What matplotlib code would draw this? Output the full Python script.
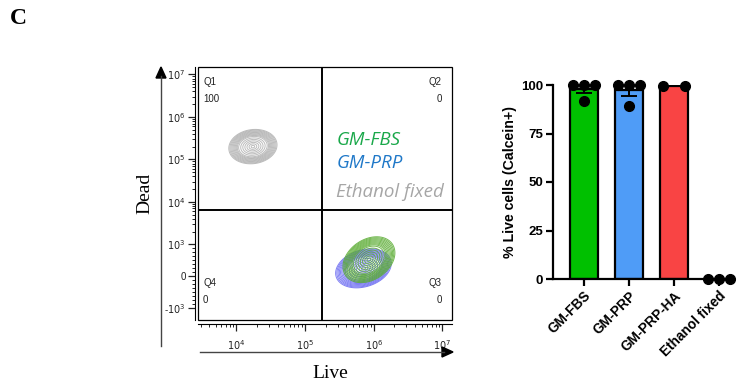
import numpy as np
import matplotlib
matplotlib.use("Agg")
import matplotlib.pyplot as plt
from matplotlib.scale import SymmetricalLogScale
from matplotlib.ticker import FixedLocator, NullFormatter
from matplotlib.patches import Rectangle

# ---- bar chart data ----
groups = ["GM-FBS", "GM-PRP", "GM-PRP-HA", "Ethanol fixed"]
fbs = [100, 100, 100, 92]
prp = [100, 100, 100, 89]
prp_ha = [99.6, 99.4]
ethanol = [0, 0, 0]
bar_colors = ["#00c000", "#4f9cf7", "#f94444", "#ffffff"]

# ---- flow populations (log10 Live center, Dead center, sd x/y in decades, corr) ----
pop_names = ["Ethanol fixed", "GM-PRP", "GM-FBS"]
pop_x = [4.24, 5.85, 5.93]
pop_y = [2.0e5, 250, 520]
pop_sx = [0.13, 0.15, 0.14]
pop_sy = [0.15, 0.17, 0.2]
pop_r = [0.1, 0.25, 0.3]
pop_colors = ["#b0b0b0", "#6a6af2", "#5aac32"]
legend_colors = ["#a6a6a6", "#1f78c8", "#1aa84a"]

quad_labels = [("Q1", "100"), ("Q2", "0"), ("Q4", "0"), ("Q3", "0")]
x_gate = 10 ** 5.24
y_gate = 6500

plt.rcParams["font.family"] = ["Liberation Sans", "DejaVu Sans"]
fig = plt.figure(figsize=(7.41, 3.86), dpi=100)
W, H = 741, 386

def px(x0, y0, x1, y1):
    return [x0 / W, 1 - y1 / H, (x1 - x0) / W, (y1 - y0) / H]

# ================= flow plot =================
ax = fig.add_axes(px(198, 67, 452, 320))
ax.set_xscale("log")
ax.set_yscale("symlog", linthresh=1e3, linscale=0.68)
ax.set_xlim(10 ** 3.44, 10 ** 7.14)
ax.set_ylim(-1870, 1.5e7)

tr = SymmetricalLogScale(None, base=10, linthresh=1e3, linscale=0.68).get_transform()
gx = np.linspace(3.44, 7.14, 500)
gt = np.linspace(tr.transform([-1870])[0], tr.transform([1.5e7])[0], 500) / 1000.0
GX, GT = np.meshgrid(gx, gt)
Xd = 10 ** GX
Yd = tr.inverted().transform((GT * 1000).ravel()).reshape(GT.shape)
r_levels = np.concatenate([np.linspace(0.2, 1.6, 7), np.linspace(1.75, 2.7, 9)])
levels = np.sort(np.exp(-r_levels ** 2 / 2))
for cx, cy, sx, sy, rho, col in zip(pop_x, pop_y, pop_sx, pop_sy, pop_r, pop_colors):
    ct = tr.transform([cy])[0] / 1000.0
    u = (GX - cx) / sx
    v = (GT - ct) / sy
    q = (u ** 2 - 2 * rho * u * v + v ** 2) / (1 - rho ** 2)
    dens = np.exp(-q / 2)
    ax.contour(Xd, Yd, dens, levels=levels, colors=col, linewidths=0.7, alpha=0.85)

ax.axvline(x_gate, color="black", lw=1.4)
ax.axhline(y_gate, color="black", lw=1.4)

for s in ax.spines.values():
    s.set_visible(False)
ax.spines["left"].set_visible(True)
ax.spines["bottom"].set_visible(True)
ax.spines["left"].set_position(("outward", 2))
ax.spines["bottom"].set_position(("outward", 3))
ax.spines["left"].set_linewidth(0.8)
ax.spines["bottom"].set_linewidth(0.8)
ax.add_patch(Rectangle((0, 0), 1, 1, transform=ax.transAxes, fill=False,
                       ec="black", lw=0.9, clip_on=False))

ax.xaxis.set_major_locator(FixedLocator([1e4, 1e5, 1e6, 1e7]))
ax.set_xticklabels([r"$10^{4}$", r"$10^{5}$", r"$10^{6}$", r"$10^{7}$"])
xminor = [m * 10 ** d for d in range(3, 7) for m in range(2, 10)]
ax.xaxis.set_minor_locator(FixedLocator([v for v in xminor if v > 10 ** 3.44]))
ax.xaxis.set_minor_formatter(NullFormatter())

ax.yaxis.set_major_locator(FixedLocator([-1e3, 0, 1e3, 1e4, 1e5, 1e6, 1e7]))
ax.set_yticklabels([r"-$10^{3}$", "0", r"$10^{3}$", r"$10^{4}$", r"$10^{5}$",
                    r"$10^{6}$", r"$10^{7}$"])
yminor = [m * 10 ** d for d in range(3, 7) for m in range(2, 10)]
yminor += list(np.arange(-1000, 1001, 125))
ax.yaxis.set_minor_locator(FixedLocator(yminor))
ax.yaxis.set_minor_formatter(NullFormatter())
ax.tick_params(which="major", length=5, width=0.9, labelsize=7, pad=2, colors="#222222")
ax.tick_params(which="minor", length=2.5, width=0.6)
ax.tick_params(axis="x", pad=5)

qpos = [(0.02, 0.96, "left"), (0.96, 0.96, "right"), (0.02, 0.165, "left"), (0.96, 0.165, "right")]
for (q, val), (qx, qy, ha) in zip(quad_labels, qpos):
    ax.text(qx, qy, q, transform=ax.transAxes, ha=ha, va="top", fontsize=7, color="#222222")
    ax.text(qx, qy - 0.065, val, transform=ax.transAxes, ha=ha, va="top", fontsize=7, color="#222222")

legend_y = [0.71, 0.62, 0.505]
for name, col, ly in zip(pop_names[::-1], legend_colors[::-1], legend_y):
    ax.text(0.545, ly, name, transform=ax.transAxes, ha="left", va="center",
            fontsize=13.5, style="italic", color=col, family=["Open Sans", "DejaVu Sans"])

# axis arrows
fig.add_artist(plt.Line2D([161 / W, 161 / W], [1 - 346 / H, 1 - 76 / H], color="#444444", lw=1.0))
fig.add_artist(plt.Polygon([[156 / W, 1 - 78 / H], [166 / W, 1 - 78 / H], [161 / W, 1 - 67 / H]],
                           closed=True, color="black"))
fig.add_artist(plt.Line2D([200 / W, 444 / W], [1 - 352 / H, 1 - 352 / H], color="#444444", lw=1.0))
fig.add_artist(plt.Polygon([[442 / W, 1 - 347 / H], [442 / W, 1 - 357 / H], [453 / W, 1 - 352 / H]],
                           closed=True, color="black"))
fig.text(145 / W, 1 - 193 / H, "Dead", rotation=90, ha="center", va="center", fontsize=14,
         family=["Liberation Serif", "DejaVu Serif"])
fig.text(330 / W, 1 - 374 / H, "Live", ha="center", va="center", fontsize=14,
         family=["Liberation Serif", "DejaVu Serif"])
fig.text(10 / W, 1 - 19 / H, "C", ha="left", va="center", fontsize=17, fontweight="bold",
         family=["Liberation Serif", "DejaVu Serif"])

# ================= bar chart =================
bx = fig.add_axes(px(553, 85, 733, 279))
series = [fbs, prp, prp_ha, ethanol]
pos = np.arange(len(groups))
means = [np.mean(s) for s in series]
sems = [np.std(s, ddof=1) / np.sqrt(len(s)) for s in series]
bx.bar(pos, means, width=0.62, color=bar_colors, edgecolor="black", linewidth=1.6, zorder=2)
for i, (m, e) in enumerate(zip(means, sems)):
    if e > 0.5:
        bx.errorbar(pos[i], m, yerr=[[e], [0]], color="black", capsize=6, capthick=1.4,
                    elinewidth=1.4, zorder=3)
for i, s in enumerate(series):
    order = np.argsort(s)
    xs = np.linspace(-0.24, 0.24, len(s))
    if len(s) > 3 and min(s) < 99:
        xs = np.empty(len(s))
        xs[order[0]] = 0.0
        xs[order[1:]] = np.linspace(-0.24, 0.24, len(s) - 1)
    bx.plot(pos[i] + xs, s, "o", color="black", ms=7, zorder=4, clip_on=False)

bx.set_xlim(-0.69, 3.31)
bx.set_ylim(0, 100)
bx.set_yticks([0, 25, 50, 75, 100])
bx.set_xticks(pos)
bx.set_xticklabels(groups, rotation=45, ha="right", rotation_mode="anchor",
                   fontsize=9.8, fontweight="bold")
for lab in bx.get_yticklabels():
    lab.set_fontweight("bold")
    lab.set_fontsize(9.5)
bx.set_ylabel("% Live cells (Calcein+)", fontsize=10.2, fontweight="bold", labelpad=3)
bx.spines["top"].set_visible(False)
bx.spines["right"].set_visible(False)
bx.spines["left"].set_linewidth(1.6)
bx.spines["bottom"].set_linewidth(1.6)
bx.tick_params(width=1.6, length=5, pad=2)

fig.savefig("out.png", dpi=100)
